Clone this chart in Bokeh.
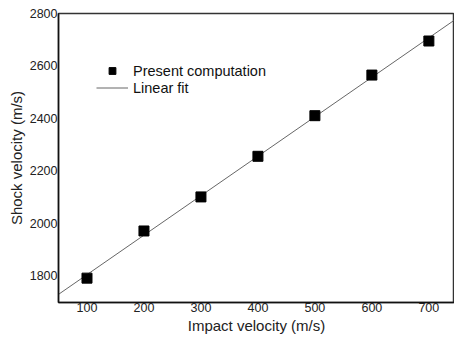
from bokeh.plotting import figure
from bokeh.models import Legend, LegendItem, Range1d
from bokeh.embed import file_html
from bokeh.resources import INLINE

impact = [100, 200, 300, 400, 500, 600, 700]
shock = [1790, 1970, 2100, 2255, 2410, 2565, 2695]
fit_x = [50, 745]
fit_y = [1728, 2775]
x_ticks = [100, 200, 300, 400, 500, 600, 700]
y_ticks = [1800, 2000, 2200, 2400, 2600, 2800]

FONT = "Liberation Sans"

p = figure(frame_width=396, frame_height=289, output_backend="svg", toolbar_location=None,
           x_range=Range1d(50, 745), y_range=Range1d(1697, 2800),
           min_border_left=58, min_border_right=0, min_border_top=13, min_border_bottom=30)
p.xgrid.visible = False
p.ygrid.visible = False
p.outline_line_color = "#333333"
p.outline_line_width = 1.5
p.background_fill_color = "white"

for ax in (p.xaxis[0], p.yaxis[0]):
    ax.major_tick_line_color = None
    ax.minor_tick_line_color = None
    ax.major_tick_out = 0
    ax.major_tick_in = 0
    ax.minor_tick_out = 0
    ax.minor_tick_in = 0
    ax.axis_line_color = "#111111"
    ax.axis_line_width = 1.5
    ax.major_label_text_font = FONT
    ax.major_label_text_font_size = "12.5px"
    ax.major_label_text_color = "#222222"
    ax.axis_label_text_font = FONT
    ax.axis_label_text_font_size = "15px"
    ax.axis_label_text_font_style = "normal"
    ax.axis_label_text_color = "#222222"

p.xaxis.ticker = x_ticks
p.yaxis.ticker = y_ticks
p.xaxis.major_label_standoff = 0
p.yaxis.major_label_standoff = 1
p.xaxis.axis_label = "Impact velocity (m/s)"
p.yaxis.axis_label = "Shock velocity (m/s)"
p.xaxis.axis_label_standoff = 2
p.yaxis.axis_label_standoff = 2

line = p.line(fit_x, fit_y, line_color="#555555", line_width=0.9)
pts = p.scatter(impact, shock, marker="square", size=10, fill_color="black", line_color="black")

legend = Legend(items=[LegendItem(label="Present computation", renderers=[pts]),
                       LegendItem(label="Linear fit", renderers=[line])],
                location=(38, 206), padding=0, margin=0, spacing=0,
                glyph_width=32, glyph_height=17, label_height=17, label_standoff=5,
                label_text_font=FONT, label_text_font_size="14.5px", label_text_color="#111111",
                border_line_color=None, background_fill_alpha=0)
p.add_layout(legend)

open("out.html", "w").write(file_html(p, INLINE))
